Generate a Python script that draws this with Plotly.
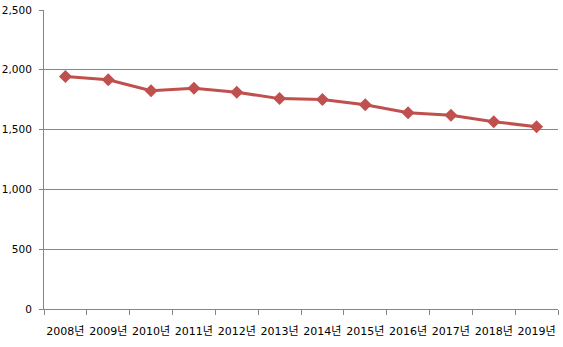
import plotly.graph_objects as go

years = ["2008년", "2009년", "2010년", "2011년", "2012년", "2013년",
         "2014년", "2015년", "2016년", "2017년", "2018년", "2019년"]
values = [1945, 1917, 1825, 1845, 1812, 1759, 1751, 1708, 1641, 1620, 1566, 1524]

fig = go.Figure()
fig.add_trace(go.Scatter(
    x=years, y=values, mode="lines+markers",
    line=dict(color="#C0504D", width=3),
    marker=dict(symbol="diamond", size=10, color="#C0504D"),
    cliponaxis=False,
))

font_family = "DejaVu Sans, Noto Sans CJK KR, sans-serif"
fig.update_layout(
    width=563, height=347,
    margin=dict(l=44, r=5, t=10, b=38),
    plot_bgcolor="white", paper_bgcolor="white",
    showlegend=False,
    font=dict(family=font_family, size=11, color="#000000"),
    xaxis=dict(
        type="category", tickson="boundaries", tickangle=0,
        ticks="outside", ticklen=5, tickcolor="#868686",
        showline=True, linecolor="#868686", linewidth=1,
        showgrid=False, tickfont=dict(size=11),
        range=[-0.5, 11.5], automargin=False, ticklabelstandoff=12,
    ),
    yaxis=dict(
        range=[0, 2500], dtick=500, tickformat=",",
        ticks="outside", ticklen=4, tickcolor="#868686",
        showline=True, linecolor="#868686", linewidth=1,
        showgrid=True, gridcolor="#868686", gridwidth=1,
        zeroline=False, tickfont=dict(size=10.5), automargin=False,
        ticklabelstandoff=5,
    ),
)

fig.write_html("out.html", config={"displayModeBar": False},
               post_script="document.body.style.margin='0';")
